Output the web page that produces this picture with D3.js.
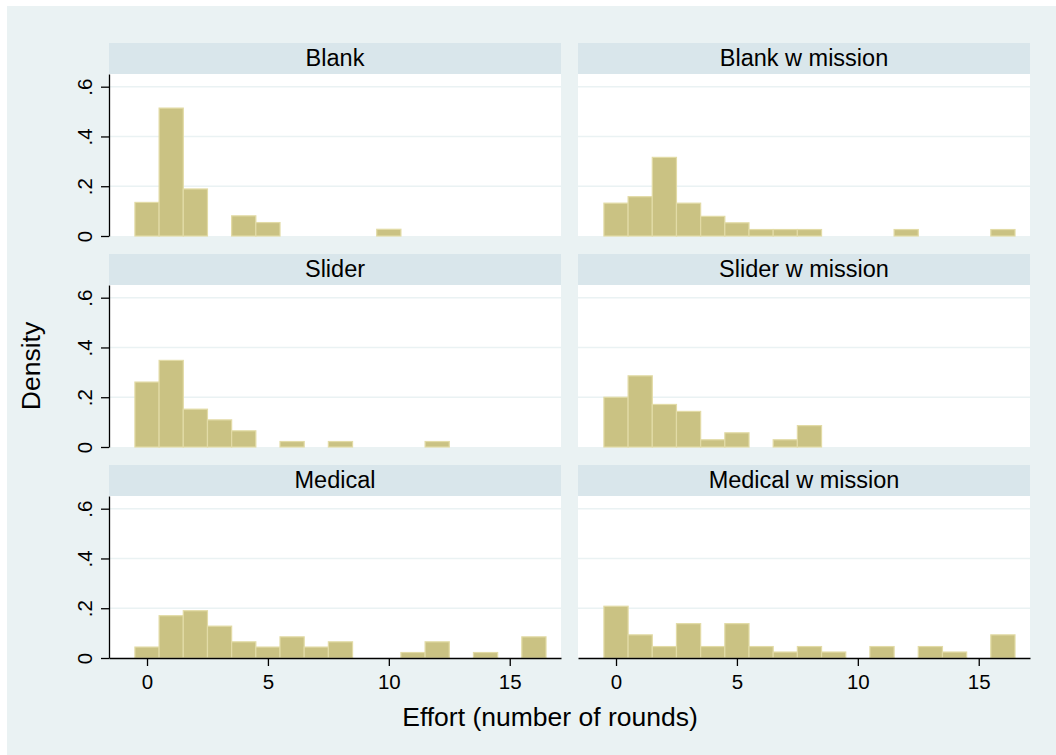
<!DOCTYPE html>
<html>
<head>
<meta charset="utf-8">
<script src="https://cdn.jsdelivr.net/npm/d3@7"></script>
<style>
  body { margin: 0; background: #fff; }
  text { font-family: "Liberation Sans", Arial, sans-serif; fill: #000; }
</style>
</head>
<body>
<div id="chart"></div>
<script>
// histogram densities for bins centred on 0..16 rounds
const bins = d3.range(0, 17);
const blank          = [0.135, 0.514, 0.189, 0, 0.081, 0.054, 0, 0, 0, 0, 0.027, 0, 0, 0, 0, 0, 0];
const blankMission   = [0.132, 0.158, 0.316, 0.132, 0.079, 0.053, 0.026, 0.026, 0.026, 0, 0, 0, 0.026, 0, 0, 0, 0.026];
const slider         = [0.261, 0.348, 0.152, 0.109, 0.065, 0, 0.022, 0, 0.022, 0, 0, 0, 0.022, 0, 0, 0, 0];
const sliderMission  = [0.200, 0.286, 0.171, 0.143, 0.029, 0.057, 0, 0.029, 0.086, 0, 0, 0, 0, 0, 0, 0, 0];
const medical        = [0.044, 0.170, 0.190, 0.128, 0.065, 0.044, 0.085, 0.044, 0.065, 0, 0, 0.022, 0.065, 0, 0.022, 0, 0.085];
const medicalMission = [0.208, 0.093, 0.046, 0.138, 0.046, 0.138, 0.046, 0.024, 0.046, 0.024, 0, 0.046, 0, 0.046, 0.024, 0, 0.093];

const panelTitles = ["Blank", "Blank w mission", "Slider", "Slider w mission", "Medical", "Medical w mission"];
const panelValues = [blank, blankMission, slider, sliderMission, medical, medicalMission];

const xTicks = [0, 5, 10, 15];
const yTicks = [0, 0.2, 0.4, 0.6];
const yTickLabels = ["0", ".2", ".4", ".6"];

const W = 1056, H = 755;
const colLeft = [109, 578], plotW = 452;
const stripTop = [43, 254, 465], stripH = 31, plotH = 162;

const svg = d3.select("#chart").append("svg")
    .attr("width", W)
    .attr("height", H);

svg.append("rect")
    .attr("x", 7).attr("y", 6)
    .attr("width", W - 7).attr("height", H - 6)
    .attr("fill", "#eaf2f3");

const x = d3.scaleLinear().domain([-1.572, 17.12]).range([0, plotW]);
// 0.6 density sits 149.3px above the baseline
const y = d3.scaleLinear().domain([0, 0.651]).range([plotH, 0]);

panelTitles.forEach(function (title, i) {
    const col = i % 2, row = Math.floor(i / 2);
    const left = colLeft[col], top = stripTop[row] + stripH;
    const g = svg.append("g").attr("transform", `translate(${left}, ${top})`);

    // strip header
    svg.append("rect")
        .attr("x", left).attr("y", stripTop[row])
        .attr("width", plotW).attr("height", stripH)
        .attr("fill", "#d9e6eb");
    svg.append("text")
        .attr("x", left + plotW / 2)
        .attr("y", stripTop[row] + 23)
        .attr("text-anchor", "middle")
        .attr("font-size", "23.5px")
        .text(title);

    g.append("rect")
        .attr("width", plotW).attr("height", plotH)
        .attr("fill", "#fff");

    // gridlines
    g.selectAll(".grid")
        .data(yTicks.slice(1))
        .enter()
        .append("line")
        .attr("x1", 0).attr("x2", plotW)
        .attr("y1", d => y(d)).attr("y2", d => y(d))
        .attr("stroke", "#eaf2f3")
        .attr("stroke-width", 1.6);

    const vals = panelValues[i];
    g.selectAll(".bar")
        .data(bins.filter(b => vals[b] > 0))
        .enter()
        .append("rect")
        .attr("x", b => x(b - 0.5))
        .attr("y", b => y(vals[b]))
        .attr("width", b => x(b + 0.5) - x(b - 0.5))
        .attr("height", b => y(0) - y(vals[b]))
        .attr("fill", "#cac283")
        .attr("stroke", "#e2dba6")
        .attr("stroke-width", 1.2);

    if (col === 0) {
        const ay = g.append("g")
            .call(d3.axisLeft(y).tickValues(yTicks)
                .tickFormat((d, k) => yTickLabels[k])
                .tickSize(8).tickSizeOuter(0));
        ay.select(".domain").attr("stroke-width", 1.3);
        ay.selectAll(".tick line").attr("stroke-width", 1.3);
        ay.selectAll(".tick text")
            .attr("transform", "rotate(-90)")
            .attr("x", 0).attr("y", -17).attr("dy", 0)
            .attr("text-anchor", "middle")
            .attr("font-size", "20.5px")
            .attr("font-family", "Liberation Sans, Arial, sans-serif")
            .attr("fill", "#000");
    }
    if (row === 2) {
        const ax = g.append("g")
            .attr("transform", `translate(0, ${plotH})`)
            .call(d3.axisBottom(x).tickValues(xTicks).tickSize(8).tickSizeOuter(0).tickPadding(8));
        ax.select(".domain").attr("stroke-width", 1.3);
        ax.selectAll(".tick line").attr("stroke-width", 1.3);
        ax.selectAll(".tick text")
            .attr("font-size", "20.5px")
            .attr("font-family", "Liberation Sans, Arial, sans-serif")
            .attr("fill", "#000");
    }
});

svg.append("text")
    .attr("x", 550)
    .attr("y", 726)
    .attr("text-anchor", "middle")
    .attr("font-size", "26.5px")
    .text("Effort (number of rounds)");

svg.append("text")
    .attr("transform", "translate(40, 366) rotate(-90)")
    .attr("text-anchor", "middle")
    .attr("font-size", "26.5px")
    .text("Density");
</script>
</body>
</html>
